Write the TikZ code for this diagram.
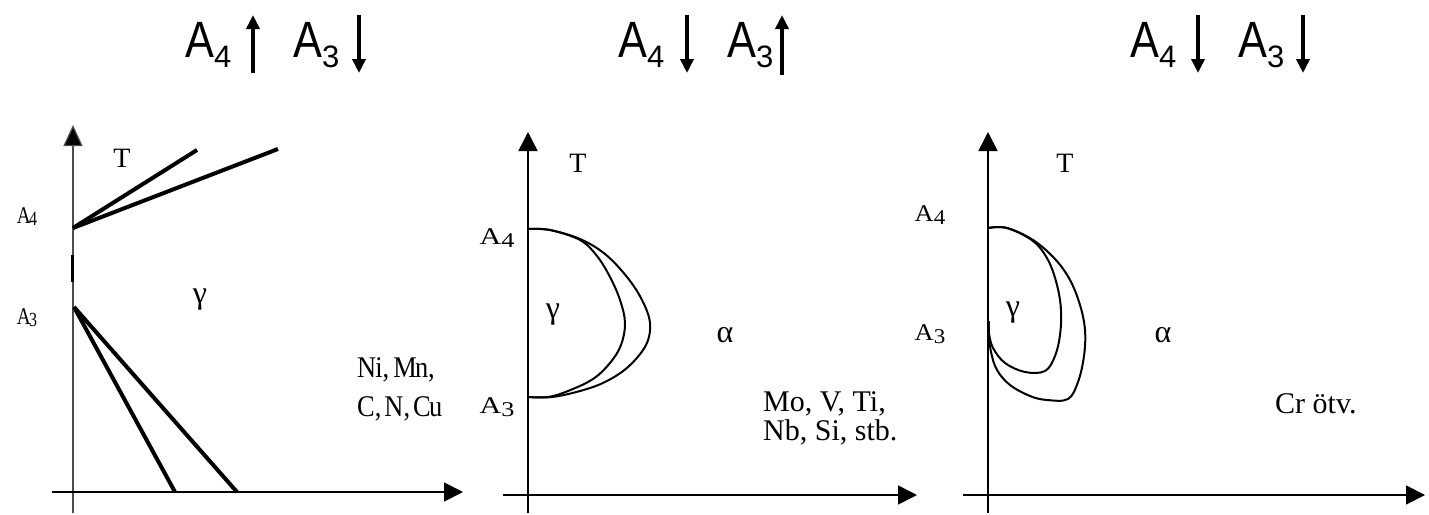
\documentclass[tikz,border=0pt]{standalone}
\usepackage{fontspec}
\usepackage{graphicx}
\setmainfont{Liberation Serif}
\newfontfamily\hv{Liberation Sans}
\usetikzlibrary{arrows.meta}
\tikzset{
  hdr/.style={inner sep=0pt, anchor=base west, font=\hv\fontsize{51}{51}\selectfont},
  harrow/.style={line width=4pt, -{Triangle[width=13pt,length=14pt]}},
  axis/.style={line width=1.8pt, -{Triangle[width=19pt,length=19pt]}},
  thickline/.style={line width=4pt},
  curve/.style={line width=2pt, line join=round},
  lbl/.style={inner sep=0pt, font=\fontsize{28}{28}\selectfont},
  greek/.style={inner sep=0pt, font=\fontsize{32}{32}\selectfont},
  albl/.style={inner sep=0pt, font=\fontsize{24}{24}\selectfont},
  elem/.style={inner sep=0pt, anchor=base west, font=\fontsize{30}{30}\selectfont},
}
\newcommand{\hsub}[1]{\raisebox{-10pt}{\fontsize{31}{31}\selectfont #1}}
\newcommand{\hA}{\scalebox{0.85}[1]{A}}
\begin{document}
\begin{tikzpicture}[x=1pt,y=-1pt]
\useasboundingbox (0,0) rectangle (1429,514);
% ---------- headers ----------
\node[hdr] (h1a) at (185,57) {\hA\hsub{4}};
\draw[harrow] (253,73) -- (253,15);
\node[hdr] (h1b) at (293,57) {\hA\hsub{3}};
\draw[harrow] (359,15) -- (359,73);

\node[hdr] (h2a) at (618,57) {\hA\hsub{4}};
\draw[harrow] (687,15) -- (687,73);
\node[hdr] (h2b) at (727,57) {\hA\hsub{3}};
\draw[harrow] (782,75) -- (782,15);

\node[hdr] (h3a) at (1130,57) {\hA\hsub{4}};
\draw[harrow] (1198,15) -- (1198,73);
\node[hdr] (h3b) at (1238,57) {\hA\hsub{3}};
\draw[harrow] (1303,15) -- (1303,73);

% ---------- panel 1 ----------
\coordinate (p1o) at (73,513);
\coordinate (p1t) at (73,125);
\coordinate (p1xl) at (52,492);
\coordinate (p1xr) at (463,492);
\draw[line width=1.2pt, black!70, -{Triangle[width=19pt,length=21pt,fill=black]}] (p1o) -- (p1t);
\draw[line width=3pt] (72,255) -- (72,282);
\draw[axis] (p1xl) -- (p1xr);
\coordinate (p1A4) at (73,228);
\coordinate (p1A3) at (74,307);
\draw[thickline] (p1A4) -- (197,150);
\draw[thickline] (p1A4) -- (278,149);
\draw[thickline] (p1A3) -- (175,492);
\draw[thickline] (p1A3) -- (237,492);
\node[lbl] (T1) at (122,158) {T};
\node[albl] (l1a4) at (27,217) {\scalebox{0.8}[1]{A\kern-2pt\raisebox{-2pt}{\fontsize{20}{20}\selectfont 4}}};
\node[albl] (l1a3) at (27,318) {\scalebox{0.8}[1]{A\kern-2pt\raisebox{-2pt}{\fontsize{20}{20}\selectfont 3}}};
\node[greek] (g1) at (200,300) {γ};
\node[elem] (e1a) at (357,377) {\scalebox{0.88}[1]{N\kern-1pt i,\kern-3pt\ M\kern-2pt n,}};
\node[elem] (e1b) at (357,416) {\scalebox{0.88}[1]{C,\kern-4pt\ N,\kern-4pt\ C\kern-2pt u}};

% ---------- panel 2 ----------
\coordinate (p2o) at (528,513);
\coordinate (p2t) at (528,132);
\coordinate (p2xl) at (503,495);
\coordinate (p2xr) at (917,495);
\draw[axis] (p2o) -- (p2t);
\draw[axis] (p2xl) -- (p2xr);
\draw[curve] plot[smooth, tension=0.6] coordinates {(528,229) (550,230) (580,239) (605,254) (627,277) (642,300) (650,323) (646,345) (628,367) (605,382) (580,391) (552,397) (528,397)};
\draw[curve] plot[smooth, tension=0.6] coordinates {(528,229) (550,230) (580,240) (597,256) (610,277) (620,300) (625,323) (621,345) (610,363) (593,379) (568,391) (548,397) (528,397)};
\node[lbl] (T2) at (578,163) {T};
\node[albl] (l2a4) at (497,238) {\scalebox{1.25}[1]{A\raisebox{-3pt}{\fontsize{21}{21}\selectfont 4}}};
\node[albl] (l2a3) at (497,407) {\scalebox{1.25}[1]{A\raisebox{-3pt}{\fontsize{21}{21}\selectfont 3}}};
\node[greek] (g2) at (553,315) {γ};
\node[greek] (a2) at (725,335) {α};
\node[elem] (e2a) at (763,411) {Mo, V, Ti,};
\node[elem] (e2b) at (763,440) {Nb, Si, stb.};

% ---------- panel 3 ----------
\coordinate (p3o) at (988,513);
\coordinate (p3t) at (988,132);
\coordinate (p3xl) at (963,495);
\coordinate (p3xr) at (1425,495);
\draw[axis] (p3o) -- (p3t);
\draw[axis] (p3xl) -- (p3xr);
\draw[curve] plot[smooth, tension=0.6] coordinates {(988,228) (1007,228) (1033,240) (1055,259) (1070,280) (1080,305) (1085,330) (1084,356) (1078,382) (1068,399) (1047,400) (1030,396) (1010,385) (997,370) (991,352) (989,334)};
\draw[curve] plot[smooth, tension=0.6] coordinates {(988,228) (1007,228) (1033,241) (1048,260) (1057,285) (1061,310) (1060,335) (1055,356) (1045,371) (1025,372) (1005,363) (993,348) (989,334)};
\draw[line width=2.5pt] (989,321) -- (989,337);
\node[lbl] (T3) at (1065,163) {T};
\node[albl] (l3a4) at (930,215) {\scalebox{1.1}[1]{A\raisebox{-3pt}{\fontsize{21}{21}\selectfont 4}}};
\node[albl] (l3a3) at (930,334) {\scalebox{1.1}[1]{A\raisebox{-3pt}{\fontsize{21}{21}\selectfont 3}}};
\node[greek] (g3) at (1013,313) {γ};
\node[greek] (a3) at (1163,335) {α};
\node[elem] (e3) at (1275,413) {Cr ötv.};
\end{tikzpicture}
\end{document}
